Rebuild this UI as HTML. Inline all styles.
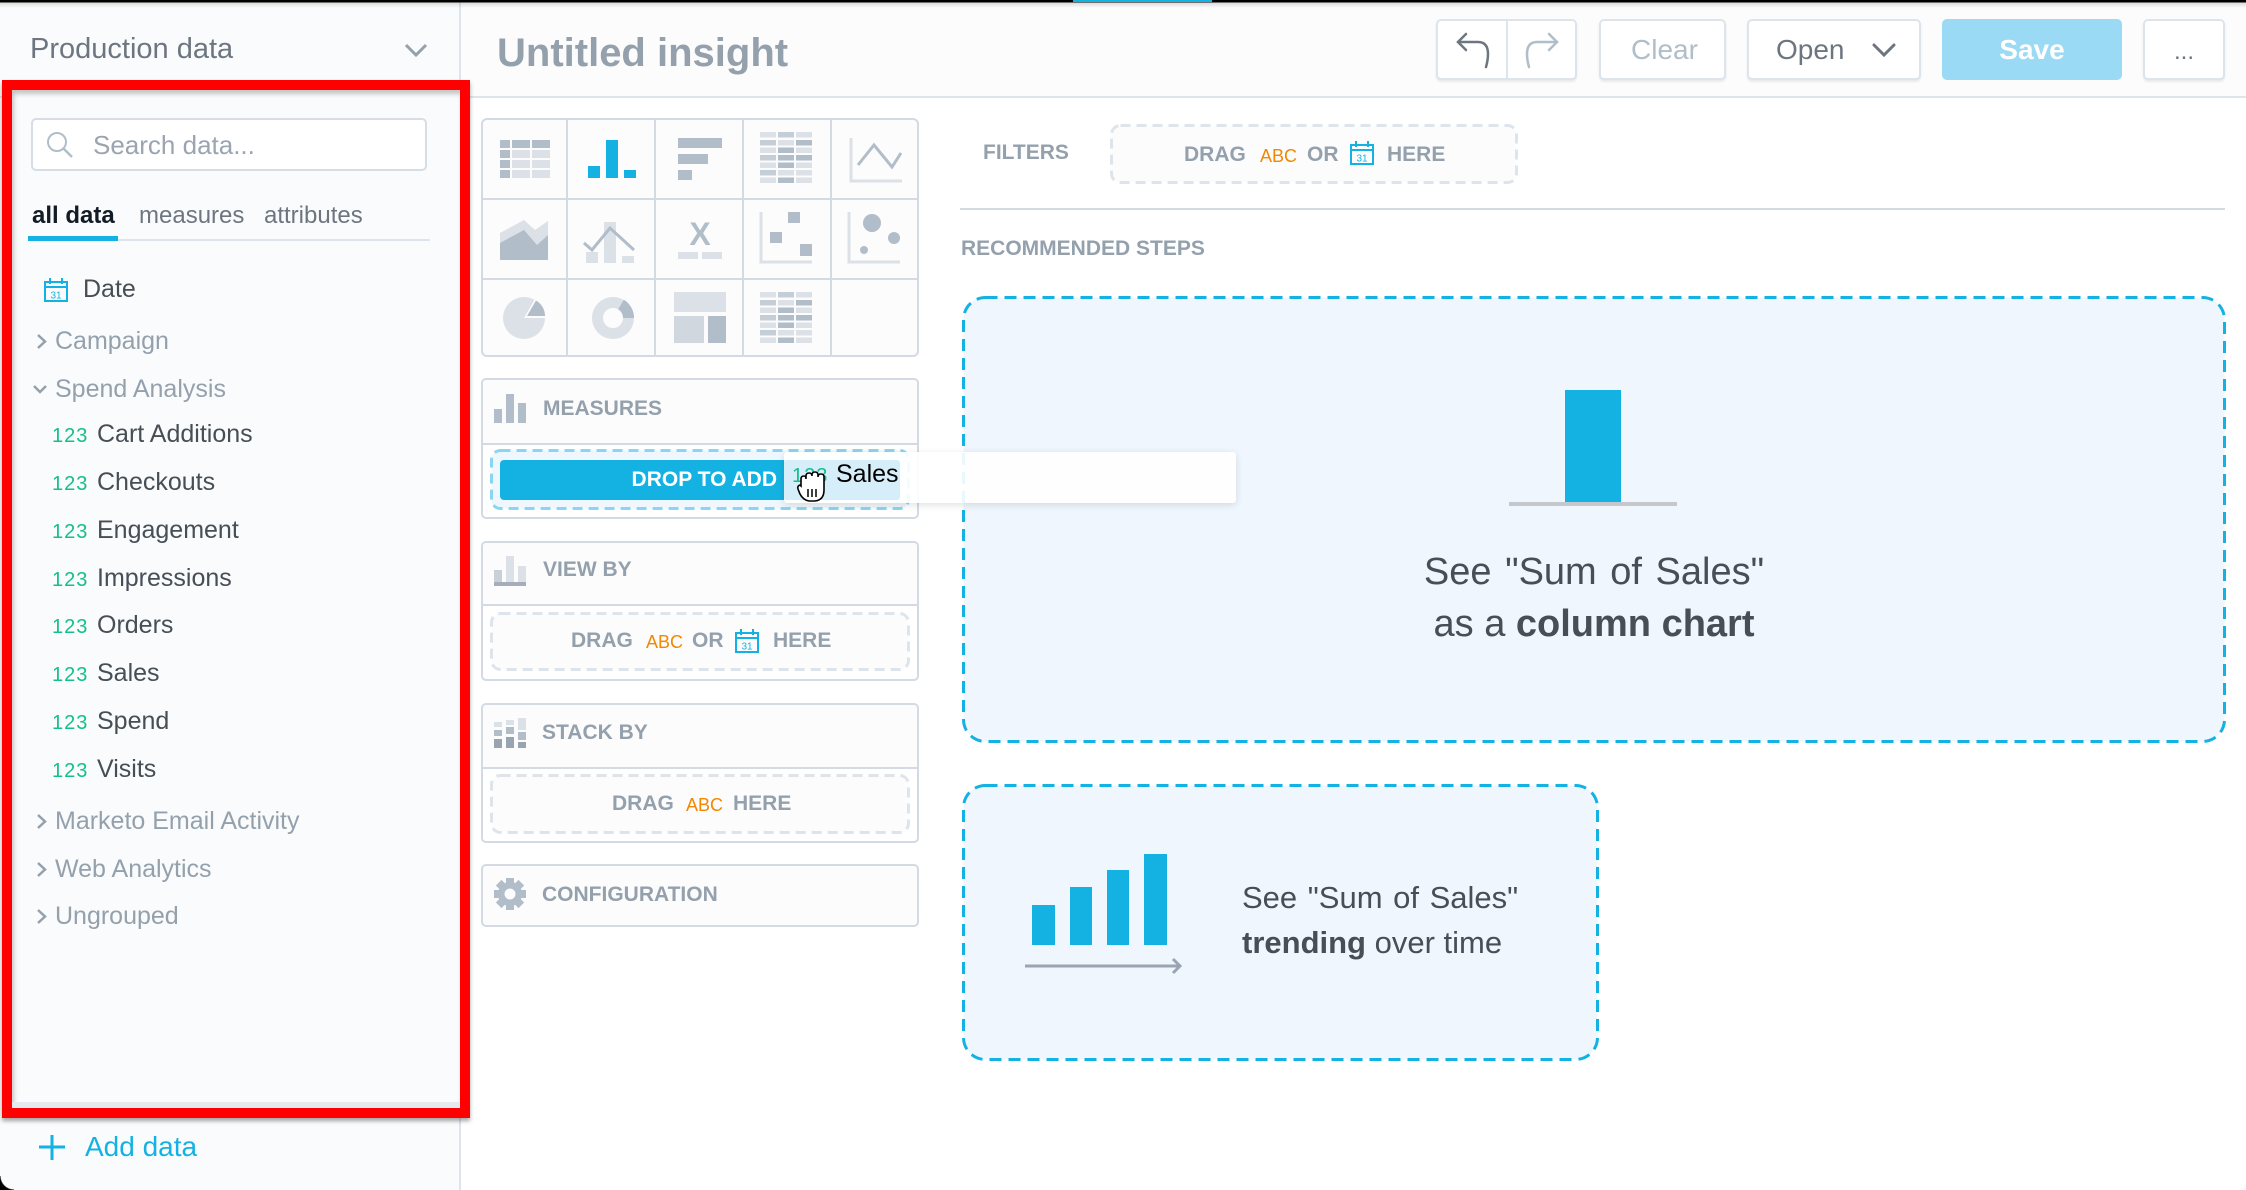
<!DOCTYPE html>
<html><head><meta charset="utf-8">
<style>
*{margin:0;padding:0;box-sizing:border-box}
body{width:2246px;height:1190px;overflow:hidden;background:#fff;font-family:"Liberation Sans",sans-serif;position:relative}
.a{position:absolute}
.t{position:absolute;white-space:nowrap;line-height:1}
.b{font-weight:bold}
.g{color:#94a1ad}
.d{color:#464e56}
.grn{color:#13bf8d;letter-spacing:1px}
.btn{position:absolute;top:19px;height:61px;border:2px solid #dde4eb;border-radius:5px;background:#fff;box-shadow:0 2px 2px rgba(0,0,0,.08)}
.panel{position:absolute;left:481px;width:438px;border:2px solid #d3dae3;border-radius:5px;background:#fff;overflow:hidden}
.ph{position:absolute;left:0;top:0;width:100%;background:#fcfcfd;border-bottom:2px solid #d3dae3}
.abc{color:#f38700;font-size:18px}
</style></head><body>

<!-- sidebar -->
<div class="a" style="left:0;top:0;width:459px;height:1190px;background:#fafbfc"></div>
<div class="a" style="left:459px;top:0;width:2px;height:1190px;background:#dde4eb"></div>
<div class="a" style="left:0;top:96px;width:459px;height:2px;background:#dde4eb"></div>
<!-- main header -->
<div class="a" style="left:461px;top:0;width:1785px;height:96px;background:#fcfcfd"></div>
<div class="a" style="left:461px;top:96px;width:1785px;height:2px;background:#dde4eb"></div>

<!-- top strip -->
<div class="a" style="left:0;top:0;width:2246px;height:8px;background:linear-gradient(#000 0,#000 2px,rgba(0,0,0,.12) 3px,rgba(0,0,0,0) 8px)"></div>
<div class="a" style="left:1073px;top:0;width:139px;height:2px;background:#14b2e2"></div>

<div class="t" style="left:30px;top:35px;font-size:29px;color:#6d7680">Production data</div>

<!-- red box -->
<div class="a" style="left:2px;top:80px;width:468px;height:1038px;border:10px solid #ff0000;box-shadow:0 3px 4px rgba(0,0,0,.35)"></div>
<div class="a" style="left:12px;top:90px;width:448px;height:1018px;background:#fafbfc;box-shadow:inset 2px 4px 5px rgba(0,0,0,.22)"></div>
<div class="a" style="left:12px;top:1102px;width:448px;height:6px;background:#e6eaef"></div>

<!-- search -->
<div class="a" style="left:31px;top:118px;width:396px;height:53px;border:2px solid #d6dde5;border-radius:5px;background:#fff"></div>
<div class="t" style="left:93px;top:132px;font-size:26px;color:#9aa5b1">Search data...</div>

<!-- tabs -->
<div class="a" style="left:28px;top:239px;width:402px;height:2px;background:#dde4eb"></div>
<div class="a" style="left:28px;top:236px;width:90px;height:5px;background:#14b2e2"></div>
<div class="t b" style="left:32px;top:204px;font-size:24px;color:#131c26">all data</div>
<div class="t" style="left:139px;top:204px;font-size:24px;color:#6d7680">measures</div>
<div class="t" style="left:264px;top:204px;font-size:24px;color:#6d7680">attributes</div>

<div class="t d" style="left:83px;top:277px;font-size:25px">Date</div>
<div class="t g" style="left:55px;top:329px;font-size:25px">Campaign</div>
<div class="t g" style="left:55px;top:377px;font-size:25px">Spend Analysis</div>

<div class="t grn" style="left:52px;top:426px;font-size:20px">123</div><div class="t d" style="left:97px;top:422px;font-size:25px">Cart Additions</div>
<div class="t grn" style="left:52px;top:474px;font-size:20px">123</div><div class="t d" style="left:97px;top:470px;font-size:25px">Checkouts</div>
<div class="t grn" style="left:52px;top:522px;font-size:20px">123</div><div class="t d" style="left:97px;top:518px;font-size:25px">Engagement</div>
<div class="t grn" style="left:52px;top:570px;font-size:20px">123</div><div class="t d" style="left:97px;top:566px;font-size:25px">Impressions</div>
<div class="t grn" style="left:52px;top:617px;font-size:20px">123</div><div class="t d" style="left:97px;top:613px;font-size:25px">Orders</div>
<div class="t grn" style="left:52px;top:665px;font-size:20px">123</div><div class="t d" style="left:97px;top:661px;font-size:25px">Sales</div>
<div class="t grn" style="left:52px;top:713px;font-size:20px">123</div><div class="t d" style="left:97px;top:709px;font-size:25px">Spend</div>
<div class="t grn" style="left:52px;top:761px;font-size:20px">123</div><div class="t d" style="left:97px;top:757px;font-size:25px">Visits</div>

<div class="t g" style="left:55px;top:809px;font-size:25px">Marketo Email Activity</div>
<div class="t g" style="left:55px;top:857px;font-size:25px">Web Analytics</div>
<div class="t g" style="left:55px;top:904px;font-size:25px">Ungrouped</div>

<div class="t" style="left:85px;top:1133px;font-size:28px;color:#14b2e2">Add data</div>
<div class="a" style="left:0;top:1176px;width:14px;height:14px;background:radial-gradient(circle at 14px 0,rgba(0,0,0,0) 13px,#000 14px)"></div>

<!-- main header -->
<div class="t b g" style="left:497px;top:33px;font-size:40px">Untitled insight</div>
<div class="btn" style="left:1436px;width:141px"></div>
<div class="a" style="left:1506px;top:21px;width:2px;height:57px;background:#dde4eb"></div>
<div class="btn" style="left:1599px;width:127px"></div>
<div class="t" style="left:1631px;top:36px;font-size:28px;color:#b0bec9">Clear</div>
<div class="btn" style="left:1747px;width:174px"></div>
<div class="t" style="left:1776px;top:36px;font-size:28px;color:#6d7680">Open</div>
<div class="a" style="left:1942px;top:19px;width:180px;height:61px;border-radius:5px;background:#9bdaf4"></div>
<div class="t b" style="left:1942px;width:180px;text-align:center;top:36px;font-size:28px;color:#fff">Save</div>
<div class="btn" style="left:2143px;width:82px"></div>
<div class="t" style="left:2143px;width:82px;text-align:center;top:40px;font-size:24px;color:#6d7680">...</div>

<!-- chart type grid -->
<div class="a" style="left:481px;top:118px;width:438px;height:239px;border:2px solid #d3dae3;border-radius:6px;background:#fcfcfd"></div>

<!-- panels -->
<div class="panel" style="top:378px;height:141px"><div class="ph" style="height:65px"></div></div>
<div class="panel" style="top:541px;height:140px"><div class="ph" style="height:63px"></div></div>
<div class="panel" style="top:703px;height:140px"><div class="ph" style="height:64px"></div></div>
<div class="panel" style="top:864px;height:63px;background:#fcfcfd"></div>

<!-- graphics -->
<svg class="a" style="left:0;top:0" width="2246" height="1190" viewBox="0 0 2246 1190">
 <polyline points="406,45 416,55 426,45" fill="none" stroke="#94a1ad" stroke-width="3"/>
 <g fill="none" stroke="#94a1ad" stroke-width="2.5">
  <polyline points="38,335 45,341.5 38,348"/>
  <polyline points="34,386 40,392 46,386"/>
  <polyline points="38,815 45,821.5 38,828"/>
  <polyline points="38,863 45,869.5 38,876"/>
  <polyline points="38,910 45,916.5 38,923"/>
 </g>
 <circle cx="57" cy="142" r="9" fill="none" stroke="#b0bec9" stroke-width="2"/>
 <line x1="63.5" y1="148.5" x2="72" y2="157" stroke="#b0bec9" stroke-width="2.5"/>
 <g transform="translate(44,278)">
  <rect x="1" y="4" width="22" height="19" fill="none" stroke="#14b2e2" stroke-width="2"/>
  <line x1="1" y1="9" x2="23" y2="9" stroke="#14b2e2" stroke-width="2"/>
  <line x1="6" y1="0" x2="6" y2="6" stroke="#14b2e2" stroke-width="2"/>
  <line x1="18" y1="0" x2="18" y2="6" stroke="#14b2e2" stroke-width="2"/>
  <text x="12" y="20.5" font-size="10" text-anchor="middle" fill="#14b2e2" font-family="Liberation Sans">31</text>
 </g>
 <line x1="39" y1="1147" x2="65" y2="1147" stroke="#14b2e2" stroke-width="3"/>
 <line x1="52" y1="1135" x2="52" y2="1160" stroke="#14b2e2" stroke-width="3"/>

 <g fill="none" stroke-width="2.5" stroke-linecap="round">
  <path d="M1458 42 L1478 42 Q1488 42 1488 54 Q1488 60 1486 67" stroke="#6d7680"/>
  <polyline points="1466,34 1458,42 1466,50" stroke="#6d7680"/>
  <path d="M1557 42 L1537 42 Q1527 42 1527 54 Q1527 60 1529 67" stroke="#b0bec9"/>
  <polyline points="1549,34 1557,42 1549,50" stroke="#b0bec9"/>
  <polyline points="1874,45 1884,55 1894,45" stroke="#6d7680" stroke-width="3"/>
 </g>

 <g stroke="#d3dae3" stroke-width="2">
  <line x1="567" y1="119" x2="567" y2="356"/>
  <line x1="655" y1="119" x2="655" y2="356"/>
  <line x1="743" y1="119" x2="743" y2="356"/>
  <line x1="831" y1="119" x2="831" y2="356"/>
  <line x1="482" y1="199" x2="918" y2="199"/>
  <line x1="482" y1="279" x2="918" y2="279"/>
 </g>
 <g fill="#b1bdc9">
  <rect x="500" y="140" width="10" height="8"/><rect x="512" y="140" width="18" height="8"/><rect x="532" y="140" width="18" height="8"/>
  <rect x="500" y="150" width="10" height="8"/><rect x="500" y="160" width="10" height="8"/><rect x="500" y="170" width="10" height="8"/>
 </g>
 <g fill="#dbe1e7">
  <rect x="512" y="150" width="18" height="8"/><rect x="532" y="150" width="18" height="8"/>
  <rect x="512" y="160" width="18" height="8"/><rect x="532" y="160" width="18" height="8"/>
  <rect x="512" y="170" width="18" height="8"/><rect x="532" y="170" width="18" height="8"/>
 </g>
 <g fill="#14b2e2">
  <rect x="588" y="166" width="12" height="12"/><rect x="606" y="140" width="12" height="38"/><rect x="624" y="170" width="12" height="8"/>
 </g>
 <g fill="#b1bdc9">
  <rect x="678" y="138" width="44" height="10"/><rect x="678" y="154" width="30" height="10"/><rect x="678" y="170" width="14" height="10"/>
 </g>
 <g>
  <rect x="760" y="132" width="16" height="5.5" fill="#dbe1e7"/><rect x="778" y="132" width="16" height="5.5" fill="#c5ced7"/><rect x="796" y="132" width="16" height="5.5" fill="#dbe1e7"/>
  <rect x="760" y="140" width="16" height="5.5" fill="#c5ced7"/><rect x="778" y="140" width="16" height="5.5" fill="#dbe1e7"/><rect x="796" y="140" width="16" height="5.5" fill="#b1bdc9"/>
  <rect x="760" y="147.5" width="16" height="5.5" fill="#dbe1e7"/><rect x="778" y="147.5" width="16" height="5.5" fill="#b1bdc9"/><rect x="796" y="147.5" width="16" height="5.5" fill="#dbe1e7"/>
  <rect x="760" y="155" width="16" height="5.5" fill="#c5ced7"/><rect x="778" y="155" width="16" height="5.5" fill="#b1bdc9"/><rect x="796" y="155" width="16" height="5.5" fill="#b1bdc9"/>
  <rect x="760" y="162.5" width="16" height="5.5" fill="#dbe1e7"/><rect x="778" y="162.5" width="16" height="5.5" fill="#b1bdc9"/><rect x="796" y="162.5" width="16" height="5.5" fill="#dbe1e7"/>
  <rect x="760" y="170" width="16" height="5.5" fill="#c5ced7"/><rect x="778" y="170" width="16" height="5.5" fill="#dbe1e7"/><rect x="796" y="170" width="16" height="5.5" fill="#dbe1e7"/>
  <rect x="760" y="177.5" width="16" height="5.5" fill="#dbe1e7"/><rect x="778" y="177.5" width="16" height="5.5" fill="#b1bdc9"/><rect x="796" y="177.5" width="16" height="5.5" fill="#dbe1e7"/>
 </g>
 <polyline points="851,138 851,181 902,181" fill="none" stroke="#dbe1e7" stroke-width="3"/>
 <polyline points="858,165 874,145 892,167 901,153" fill="none" stroke="#b1bdc9" stroke-width="3"/>
 <polygon points="500,233 524,220 535,230 548,221 548,260 500,260" fill="#dbe1e7"/>
 <polygon points="500,243 524,230 537,245 548,235 548,260 500,260" fill="#b1bdc9"/>
 <g fill="#dbe1e7"><rect x="586" y="252" width="12" height="11"/><rect x="604" y="222" width="12" height="41"/><rect x="622" y="256" width="12" height="7"/></g>
 <polyline points="584,243 592,250 610,228 634,250" fill="none" stroke="#b1bdc9" stroke-width="3"/>
 <text x="700" y="245" font-size="32" font-weight="bold" text-anchor="middle" fill="#b1bdc9" font-family="Liberation Sans">X</text>
 <g fill="#dbe1e7"><rect x="678" y="252" width="20" height="7"/><rect x="702" y="252" width="20" height="7"/></g>
 <polyline points="761,212 761,262 812,262" fill="none" stroke="#dbe1e7" stroke-width="3"/>
 <g fill="#b1bdc9"><rect x="788" y="212" width="12" height="11"/><rect x="770" y="232" width="12" height="11"/><rect x="800" y="244" width="12" height="12"/></g>
 <polyline points="849,212 849,262 900,262" fill="none" stroke="#dbe1e7" stroke-width="3"/>
 <g fill="#b1bdc9"><circle cx="872" cy="223" r="9"/><circle cx="894" cy="238" r="6"/><circle cx="864" cy="250" r="4"/></g>
 <circle cx="524" cy="318" r="21" fill="#dbe1e7"/>
 <path d="M524 318 L534.5 299.8 A21 21 0 0 1 545 318 Z" fill="#fcfcfd"/>
 <path d="M527 316 L536 300.5 A18 18 0 0 1 545 316 Z" fill="#b1bdc9"/>
 <circle cx="613" cy="318" r="15.5" fill="none" stroke="#dbe1e7" stroke-width="11"/>
 <path d="M621 304.5 A15.5 15.5 0 0 1 628.5 318" fill="none" stroke="#b1bdc9" stroke-width="11"/>
 <rect x="674" y="292" width="52" height="20" fill="#dbe1e7"/>
 <rect x="674" y="316" width="30" height="27" fill="#d0d7de"/>
 <rect x="708" y="316" width="18" height="27" fill="#b1bdc9"/>
 <g>
  <rect x="760" y="292" width="16" height="5.5" fill="#dbe1e7"/><rect x="778" y="292" width="16" height="5.5" fill="#c5ced7"/><rect x="796" y="292" width="16" height="5.5" fill="#dbe1e7"/>
  <rect x="760" y="300" width="16" height="5.5" fill="#c5ced7"/><rect x="778" y="300" width="16" height="5.5" fill="#dbe1e7"/><rect x="796" y="300" width="16" height="5.5" fill="#b1bdc9"/>
  <rect x="760" y="307.5" width="16" height="5.5" fill="#dbe1e7"/><rect x="778" y="307.5" width="16" height="5.5" fill="#b1bdc9"/><rect x="796" y="307.5" width="16" height="5.5" fill="#dbe1e7"/>
  <rect x="760" y="315" width="16" height="5.5" fill="#c5ced7"/><rect x="778" y="315" width="16" height="5.5" fill="#b1bdc9"/><rect x="796" y="315" width="16" height="5.5" fill="#b1bdc9"/>
  <rect x="760" y="322.5" width="16" height="5.5" fill="#dbe1e7"/><rect x="778" y="322.5" width="16" height="5.5" fill="#b1bdc9"/><rect x="796" y="322.5" width="16" height="5.5" fill="#dbe1e7"/>
  <rect x="760" y="330" width="16" height="5.5" fill="#c5ced7"/><rect x="778" y="330" width="16" height="5.5" fill="#dbe1e7"/><rect x="796" y="330" width="16" height="5.5" fill="#dbe1e7"/>
  <rect x="760" y="337.5" width="16" height="5.5" fill="#dbe1e7"/><rect x="778" y="337.5" width="16" height="5.5" fill="#b1bdc9"/><rect x="796" y="337.5" width="16" height="5.5" fill="#dbe1e7"/>
 </g>

 <g fill="#b1bdc9"><rect x="494" y="409" width="8" height="14"/><rect x="506" y="394" width="8" height="29"/><rect x="518" y="403" width="8" height="20"/></g>
 <g><rect x="494" y="570" width="8" height="12" fill="#c8d0d8"/><rect x="506" y="556" width="8" height="26" fill="#dbe1e7"/><rect x="518" y="566" width="8" height="16" fill="#dbe1e7"/><rect x="494" y="582" width="32" height="4" fill="#a4afba"/></g>
 <g>
  <rect x="494" y="722" width="8" height="5" fill="#dbe1e7"/><rect x="494" y="730" width="8" height="6" fill="#b1bdc9"/><rect x="494" y="739" width="8" height="9" fill="#98a4b0"/>
  <rect x="506" y="720" width="8" height="5" fill="#dbe1e7"/><rect x="506" y="727" width="8" height="7" fill="#b1bdc9"/><rect x="506" y="737" width="8" height="11" fill="#98a4b0"/>
  <rect x="518" y="718" width="8" height="12" fill="#dbe1e7"/><rect x="518" y="732" width="8" height="8" fill="#b1bdc9"/><rect x="518" y="742" width="8" height="6" fill="#98a4b0"/>
 </g>
 <g transform="translate(510,894)" fill="#b1bdc9">
  <circle r="12"/>
  <rect x="-4" y="-16" width="8" height="32"/>
  <rect x="-4" y="-16" width="8" height="32" transform="rotate(45)"/>
  <rect x="-4" y="-16" width="8" height="32" transform="rotate(90)"/>
  <rect x="-4" y="-16" width="8" height="32" transform="rotate(135)"/>
  <circle r="5.5" fill="#fcfcfd"/>
 </g>

 <rect x="491.5" y="450.5" width="417" height="58" rx="9" fill="#eef7fd" stroke="#8ad6f0" stroke-width="3" stroke-dasharray="10 6"/>
 <rect x="491.5" y="613.5" width="417" height="56" rx="9" fill="#fcfcfd" stroke="#dde4eb" stroke-width="3" stroke-dasharray="10 6"/>
 <rect x="491.5" y="775.5" width="417" height="57" rx="9" fill="#fcfcfd" stroke="#dde4eb" stroke-width="3" stroke-dasharray="10 6"/>
 <rect x="1111.5" y="125.5" width="405" height="57" rx="9" fill="#fcfcfd" stroke="#dde4eb" stroke-width="3" stroke-dasharray="10 6"/>
 <g transform="translate(735,629)">
  <rect x="1" y="4" width="22" height="19" fill="none" stroke="#14b2e2" stroke-width="2"/>
  <line x1="1" y1="9" x2="23" y2="9" stroke="#14b2e2" stroke-width="2"/>
  <line x1="6" y1="0" x2="6" y2="6" stroke="#14b2e2" stroke-width="2"/><line x1="18" y1="0" x2="18" y2="6" stroke="#14b2e2" stroke-width="2"/>
  <text x="12" y="20.5" font-size="10" text-anchor="middle" fill="#14b2e2" font-family="Liberation Sans">31</text>
 </g>
 <g transform="translate(1350,141)">
  <rect x="1" y="4" width="22" height="19" fill="none" stroke="#14b2e2" stroke-width="2"/>
  <line x1="1" y1="9" x2="23" y2="9" stroke="#14b2e2" stroke-width="2"/>
  <line x1="6" y1="0" x2="6" y2="6" stroke="#14b2e2" stroke-width="2"/><line x1="18" y1="0" x2="18" y2="6" stroke="#14b2e2" stroke-width="2"/>
  <text x="12" y="20.5" font-size="10" text-anchor="middle" fill="#14b2e2" font-family="Liberation Sans">31</text>
 </g>

 <line x1="960" y1="209" x2="2225" y2="209" stroke="#d3dae3" stroke-width="2"/>

 <rect x="963.5" y="297.5" width="1261" height="444" rx="22" fill="#eff6fe" stroke="#14b2e2" stroke-width="3" stroke-dasharray="12 7"/>
 <rect x="963.5" y="785.5" width="634" height="274" rx="22" fill="#eff6fe" stroke="#14b2e2" stroke-width="3" stroke-dasharray="12 7"/>
 <rect x="1565" y="390" width="56" height="112" fill="#14b2e2"/>
 <rect x="1509" y="502" width="168" height="4" fill="#c4c8cc"/>
 <g fill="#14b2e2">
  <rect x="1032" y="905" width="23" height="40"/><rect x="1070" y="887" width="22" height="58"/>
  <rect x="1107" y="870" width="22" height="75"/><rect x="1144" y="854" width="23" height="91"/>
 </g>
 <line x1="1025" y1="966" x2="1180" y2="966" stroke="#9aa5b1" stroke-width="3"/>
 <polyline points="1173,959 1180,966 1173,973" fill="none" stroke="#9aa5b1" stroke-width="3"/>
</svg>

<div class="t b g" style="left:983px;top:142px;font-size:21px">FILTERS</div>
<div class="t b g" style="left:1184px;top:144px;font-size:21px">DRAG</div>
<div class="t abc" style="left:1260px;top:147px">ABC</div>
<div class="t b g" style="left:1307px;top:144px;font-size:21px">OR</div>
<div class="t b g" style="left:1387px;top:144px;font-size:21px">HERE</div>
<div class="t b g" style="left:961px;top:238px;font-size:21px">RECOMMENDED STEPS</div>

<div class="t b g" style="left:543px;top:398px;font-size:21px">MEASURES</div>
<div class="t b g" style="left:543px;top:559px;font-size:21px">VIEW BY</div>
<div class="t b g" style="left:542px;top:722px;font-size:21px">STACK BY</div>
<div class="t b g" style="left:542px;top:884px;font-size:21px">CONFIGURATION</div>

<div class="t b g" style="left:571px;top:630px;font-size:21px">DRAG</div>
<div class="t abc" style="left:646px;top:633px">ABC</div>
<div class="t b g" style="left:692px;top:630px;font-size:21px">OR</div>
<div class="t b g" style="left:773px;top:630px;font-size:21px">HERE</div>

<div class="t b g" style="left:612px;top:793px;font-size:21px">DRAG</div>
<div class="t abc" style="left:686px;top:796px">ABC</div>
<div class="t b g" style="left:733px;top:793px;font-size:21px">HERE</div>

<div class="a" style="left:500px;top:460px;width:300px;height:40px;border-radius:4px;background:#14b2e2"></div>
<div class="t b" style="left:500px;width:277px;text-align:right;top:469px;font-size:21px;color:#fff">DROP TO ADD</div>
<div class="a" style="left:784px;top:452px;width:452px;height:51px;border-radius:3px;background:rgba(255,255,255,.9);box-shadow:0 2px 8px rgba(0,0,0,.12)"></div>
<div class="a" style="left:784px;top:460px;width:116px;height:40px;border-radius:3px;background:#d6eef9"></div>
<div class="t grn" style="left:792px;top:466px;font-size:20px">123</div>
<div class="t" style="left:836px;top:462px;font-size:25px;color:#000">Sales</div>
<svg class="a" style="left:795px;top:470px" width="36" height="34" viewBox="0 0 36 34">
 <path d="M6 16 L6 9 Q6 6 9 6 Q11 6 11 9 L11 6 Q11 3 14 3 Q17 3 17 6 L17 5 Q17 2 20 2 Q23 2 23 5 L23 7 Q23 4 26 4 Q29 4 29 7 L29 20 Q29 30 20 31 L14 31 Q8 30 5 24 L3 19 Q2 16 5 15 Z" fill="#fff" stroke="#000" stroke-width="1.6"/>
 <line x1="13" y1="19" x2="13" y2="27" stroke="#000" stroke-width="1.5"/>
 <line x1="17" y1="19" x2="17" y2="27" stroke="#000" stroke-width="1.5"/>
 <line x1="21" y1="19" x2="21" y2="27" stroke="#000" stroke-width="1.5"/>
</svg>

<div class="t d" style="left:963px;width:1262px;text-align:center;top:553px;font-size:38px;word-spacing:3px">See "Sum of Sales"</div>
<div class="t d" style="left:963px;width:1262px;text-align:center;top:605px;font-size:38px">as a <b>column chart</b></div>
<div class="t d" style="left:1242px;top:882px;font-size:31px;word-spacing:2px">See "Sum of Sales"</div>
<div class="t d" style="left:1242px;top:927px;font-size:31px"><b>trending</b> over time</div>

</body></html>
